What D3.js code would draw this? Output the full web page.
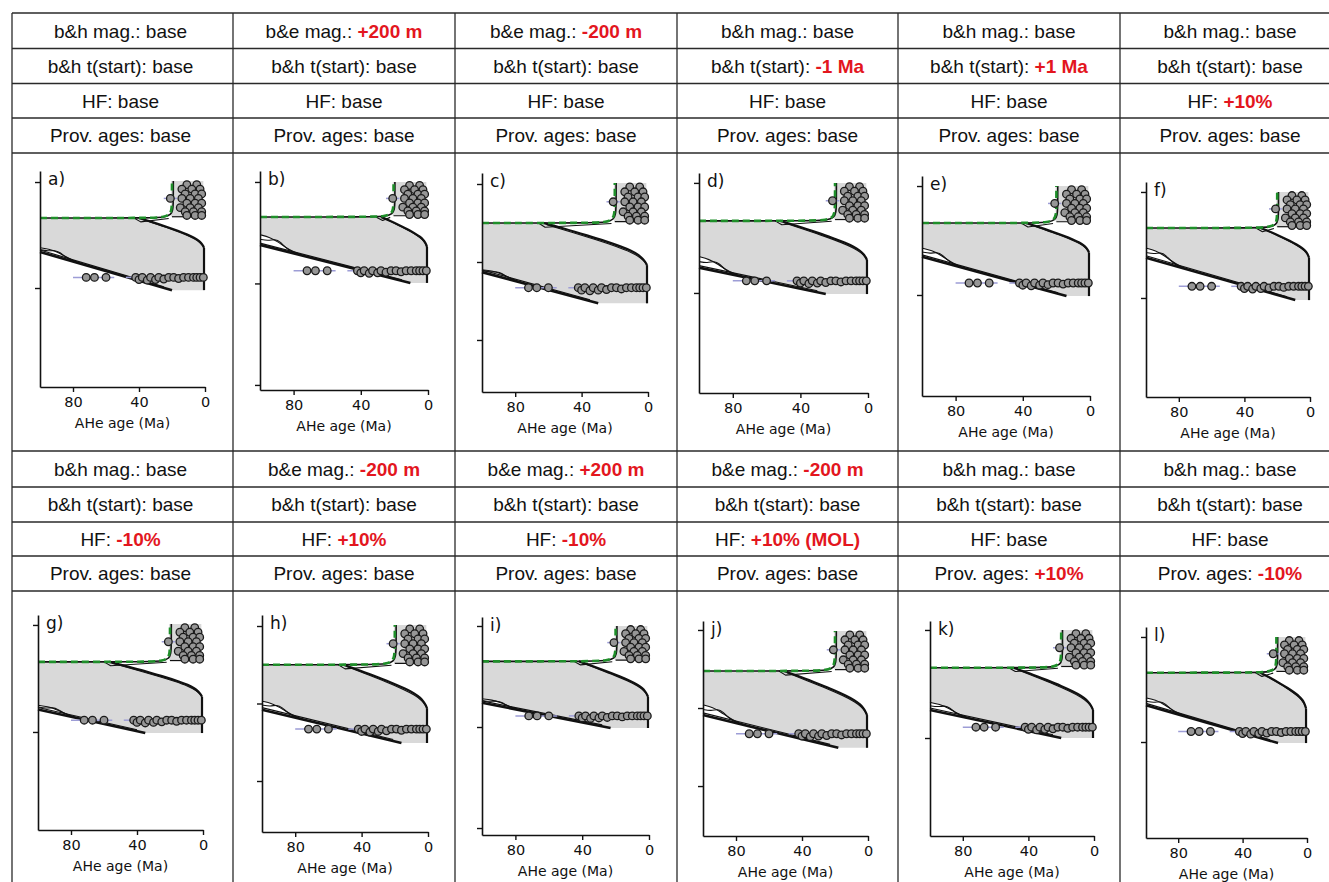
<!DOCTYPE html>
<html>
<head>
<meta charset="utf-8">
<script src="https://cdn.jsdelivr.net/npm/d3@7"></script>
<style>
  body { margin: 0; background: #fff; }
  svg { display: block; }
</style>
</head>
<body>
<svg id="fig" width="1329" height="882"></svg>
<script>
// ---------------- scenario table ----------------
const panelIds   = ["a","b","c","d","e","f","g","h","i","j","k","l"];
const magKey     = ["b&h","b&e","b&e","b&h","b&h","b&h","b&h","b&e","b&e","b&e","b&h","b&h"];
const magVal     = ["base","+200 m","-200 m","base","base","base","base","-200 m","+200 m","-200 m","base","base"];
const tStartVal  = ["base","base","base","-1 Ma","+1 Ma","base","base","base","base","base","base","base"];
const hfVal      = ["base","base","base","base","base","+10%","-10%","+10%","-10%","+10% (MOL)","base","base"];
const provVal    = ["base","base","base","base","base","base","base","base","base","base","+10%","-10%"];

// ---------------- axes (AHe age in Ma, depth in tick units) ----------------
const ageTicks   = [80, 40, 0];
const depthTicks = [0, 1, 2];
const yDomTop    = [-0.104,-0.108,-0.141,-0.090,-0.092,-0.094,-0.093,-0.142,-0.089,-0.115,-0.083,-0.095];
const yDomBot    = [ 1.934, 2.050, 2.667, 1.909, 1.927, 1.934, 1.916, 2.658, 2.069, 2.640, 1.907, 1.914];

// ---------------- modelled profile levels per scenario ----------------
const profileTop = [-0.01, 0.00,-0.013, 0.00, 0.00, 0.00,-0.01,-0.013, 0.00, 0.013, 0.00, 0.00];
const stepDepth  = [ 0.34, 0.345, 0.50, 0.345, 0.34, 0.34, 0.345, 0.50, 0.35, 0.526, 0.35, 0.34];
const kneeDepth  = [ 0.62, 0.64, 1.04, 0.70, 0.61, 0.62, 0.67, 1.06, 0.70, 1.09, 0.74, 0.68];
const loopDepth  = [ 0.62, 0.52, 1.10, 0.67, 0.57, 0.53, 0.75, 0.97, 0.72, 0.96, 0.67, 0.58];
const slopeDepth = [ 0.66, 0.62, 1.13, 0.77, 0.65, 0.62, 0.79, 1.08, 0.76, 1.09, 0.74, 0.65];
const rowDepth   = [ 0.90, 0.875, 1.33, 0.89, 0.89, 0.89, 0.89, 1.33, 0.89, 1.33, 0.90, 0.90];
const baseDepth  = [ 1.02, 0.995, 1.53, 1.01, 1.01, 1.02, 1.01, 1.51, 1.01, 1.51, 1.00, 1.01];
const notchAge   = [40, 28, 63, 52, 38, 30, 57, 51, 42, 51, 49, 29];
const slopeEndAge= [20, 10.5, 30, 25, 14, 9, 35, 16, 23, 18, 20, 18];
const greenAge   = [20, 20.5, 20, 19.5, 20, 20, 20, 20, 20, 20, 20, 19];

// shape of the envelope's right limb (fraction of notch age, fraction step -> knee)
const limbAgeFrac   = [1, 0.8, 0.57, 0.4, 0.25, 0.15, 0.08, 0.04, 0.015, 0];
const limbDepthFrac = [0, 0.13, 0.30, 0.43, 0.56, 0.66, 0.76, 0.85, 0.93, 1];
const limb2AgeFrac   = [1, 0.75, 0.5, 0.3, 0.15, 0.06, 0.02, 0];
const limb2DepthFrac = [0.04, 0.22, 0.40, 0.56, 0.70, 0.83, 0.93, 1];
// thin model curves near the left end of the lower limb
const loop1Age  = [100, 94, 89, 85, 80, 74];
const loop1Frac = [0, 0.2, 0.5, 0.75, 0.92, 1];
const loop2Age  = [100, 95, 91, 88, 84, 78];
const loop2Frac = [0.45, 0.5, 0.3, 0.45, 0.85, 1];
// bend of the best-fit curve from the surface unit into the step
const bendAgeOff   = [14, 5, 1.5, 0.3, 0];
const bendDepthOff = [0, -0.008, -0.03, -0.07, -0.14];

// ---------------- observed AHe ages ----------------
const clusterAge = [11, 5, 14, 8, 3, 12, 6, 2, 21, 14, 9, 4, 11, 6, 2, 15, 9, 4, 12, 7, 2, 11, 6, 2];
const clusterPos = [0.10,0.10, 0.22,0.22,0.22, 0.35,0.35,0.35, 0.47,0.47,0.47,0.47,
                    0.60,0.60,0.60, 0.72,0.72,0.72, 0.83,0.83,0.83, 0.93,0.93,0.93];
const rowAge    = [72, 67, 60, 42, 40, 38, 35, 33, 30, 28, 25, 22, 19, 16, 13, 10, 7, 5, 3, 1];
const rowOffset = [0, 0, 0, 0, 0.02, 0, 0.025, 0, 0.02, 0, 0.015, 0, 0, 0.01, 0, 0, 0, 0, 0, 0];
const rowErrFrom = [80, 48];
const rowErrTo   = [55, 36];

// ---------------- layout ----------------
const colEdges  = [12, 233, 455, 677, 898, 1120, 1340];
const blockRows = [[13, 48.5, 83.5, 118, 153], [451, 487, 522, 556, 591]];
const frames = [
  {x0: 40,  x1: 205,  y0: 171, y1: 387},
  {x0: 260, x1: 428,  y0: 171, y1: 390},
  {x0: 482, x1: 648,  y0: 173, y1: 392},
  {x0: 699, x1: 868,  y0: 173, y1: 393},
  {x0: 922, x1: 1090, y0: 176, y1: 396},
  {x0: 1146,x1: 1310, y0: 182, y1: 397},
  {x0: 38,  x1: 203,  y0: 615, y1: 830},
  {x0: 262, x1: 428,  y0: 615, y1: 832},
  {x0: 482, x1: 649,  y0: 617, y1: 835},
  {x0: 703, x1: 868,  y0: 621, y1: 836},
  {x0: 930, x1: 1094, y0: 621, y1: 836},
  {x0: 1146,x1: 1307, y0: 627, y1: 838}
];

const GRAY = "#d9d9d9", INK = "#111", GREEN = "#1f8f2a", RED = "#e3161e",
      ERR = "#9d9dd6", DOT = "#969696";
const TABLE_FONT = "'Liberation Sans', Arial, sans-serif";
const PLOT_FONT  = "'DejaVu Sans', sans-serif";

const svg = d3.select("#fig");

// ---------------- table grid ----------------
const grid = svg.append("g").attr("stroke", "#2a2a2a").attr("stroke-width", 1.3);
blockRows.flat().forEach(yv => {
  grid.append("line").attr("x1", 12).attr("x2", 1329).attr("y1", yv).attr("y2", yv);
});
colEdges.slice(0, 6).forEach(xv => {
  grid.append("line").attr("x1", xv).attr("x2", xv).attr("y1", 13).attr("y2", 882);
});

// ---------------- header cells ----------------
function headerRows(i) {
  return [
    [magKey[i] + " mag.: ", magVal[i]],
    ["b&h t(start): ", tStartVal[i]],
    ["HF: ", hfVal[i]],
    ["Prov. ages: ", provVal[i]]
  ];
}
panelIds.forEach((id, i) => {
  const col = i % 6, blk = Math.floor(i / 6);
  const cx = col === 5 ? 1230 : (colEdges[col] + colEdges[col + 1]) / 2 - (col === 0 ? 2 : 0);
  headerRows(i).forEach((row, r) => {
    const yc = (blockRows[blk][r] + blockRows[blk][r + 1]) / 2;
    const t = svg.append("text")
      .attr("x", cx).attr("y", yc + 6.8)
      .attr("text-anchor", "middle")
      .style("font-family", TABLE_FONT).style("font-size", "19px").attr("fill", "#111");
    t.append("tspan").text(row[0]);
    const changed = row[1] !== "base";
    t.append("tspan").text(row[1])
      .attr("fill", changed ? RED : "#111")
      .style("font-weight", changed ? "bold" : "normal");
  });
});

// ---------------- panels ----------------
panelIds.forEach((id, i) => {
  const f = frames[i];
  const x = d3.scaleLinear().domain([100, 0]).range([f.x0, f.x1]);
  const y = d3.scaleLinear().domain([yDomTop[i], yDomBot[i]]).range([f.y0, f.y1]);
  const g = svg.append("g");

  const top = profileTop[i], step = stepDepth[i], knee = kneeDepth[i], base = baseDepth[i];
  const s = base - top;
  const slope = slopeDepth[i], loop = loopDepth[i];
  const nA = notchAge[i], eA = slopeEndAge[i], gA = greenAge[i];
  const edgeAge = 0.6;
  const mainAt = a => slope + (100 - a) / (100 - eA) * (base - slope);

  const limb  = limbAgeFrac.map((af, k) => [edgeAge + af * (nA - edgeAge), step + limbDepthFrac[k] * (knee - step)]);
  const limb2 = limb2AgeFrac.map((af, k) => [edgeAge + af * (nA - 2 - edgeAge), step + limb2DepthFrac[k] * (knee - step)]);
  const loop1 = loop1Age.map((a, k) => [a, loop + loop1Frac[k] * (mainAt(a) - loop)]);
  const loop2 = loop2Age.map((a, k) => [a, loop + loop2Frac[k] * (mainAt(a) - loop)]);
  const bend  = [[100, step]].concat(bendAgeOff.map((ao, k) => [gA + ao, step + bendDepthOff[k] * s]), [[gA, top]]);

  const line = d3.line().x(d => x(d[0])).y(d => y(d[1]));
  const smooth = d3.line().x(d => x(d[0])).y(d => y(d[1])).curve(d3.curveBasis);

  // envelope of modelled ages
  g.append("path")
    .attr("d", line([[gA + 0.5, top], [1, top], [1, step - 0.012 * s], [gA + 0.5, step - 0.012 * s]]) + "Z")
    .attr("fill", GRAY);
  const envelope = [[100, step], [nA, step]].concat(limb, [[edgeAge, base], [eA, base]], loop1.slice().reverse());
  g.append("path").attr("d", line(envelope) + "Z").attr("fill", GRAY);

  // model curves
  const lines = g.append("g").attr("fill", "none").attr("stroke", INK).attr("stroke-linejoin", "round");
  lines.append("path").attr("d", smooth(limb)).attr("stroke-width", 2.2);
  lines.append("path").attr("d", smooth(limb2)).attr("stroke-width", 1.1);
  lines.append("path").attr("d", line([[edgeAge, knee], [edgeAge, base]])).attr("stroke-width", 2.2);
  lines.append("path").attr("d", line([[nA + 3, step], [nA - 1, step + 0.035 * s], [gA + 2, step + 0.004 * s]])).attr("stroke-width", 1.1);
  lines.append("path").attr("d", line([[100, slope], [eA, base]])).attr("stroke-width", 2.6);
  lines.append("path").attr("d", line([[100, slope - 0.018 * s], [eA + 5, base - 0.03 * s]])).attr("stroke-width", 1.2);
  lines.append("path").attr("d", smooth(loop1)).attr("stroke-width", 1.1);
  lines.append("path").attr("d", smooth(loop2)).attr("stroke-width", 1.1);
  lines.append("path").attr("d", line([[gA, step - 0.012 * s], [1, step - 0.012 * s]])).attr("stroke-width", 1.2);
  lines.append("path").attr("d", smooth(bend.map(d => [d[0] - 0.8, d[1]]))).attr("stroke-width", 1.6);

  // best-fit path
  g.append("path").attr("d", smooth(bend))
    .attr("fill", "none").attr("stroke", GREEN).attr("stroke-width", 2.6)
    .attr("stroke-dasharray", "7,4");

  // error bars
  const err = g.append("g").attr("stroke", ERR).attr("stroke-width", 1.5);
  rowErrFrom.forEach((a0, k) => {
    err.append("line").attr("x1", x(a0)).attr("x2", x(rowErrTo[k]))
      .attr("y1", y(rowDepth[i])).attr("y2", y(rowDepth[i]));
  });
  err.append("line").attr("x1", x(25)).attr("x2", x(17))
    .attr("y1", y(top + 0.47 * (step - top))).attr("y2", y(top + 0.47 * (step - top)));

  // samples
  const dots = g.append("g").attr("fill", DOT).attr("stroke", "#1a1a1a").attr("stroke-width", 1.3);
  clusterAge.forEach((a, k) => {
    dots.append("circle").attr("cx", x(a)).attr("cy", y(top + clusterPos[k] * (step - top))).attr("r", 3.8);
  });
  rowAge.forEach((a, k) => {
    dots.append("circle").attr("cx", x(a)).attr("cy", y(rowDepth[i] + rowOffset[k] * s)).attr("r", 3.8);
  });

  // axes
  const xAxis = g.append("g").attr("transform", `translate(0,${f.y1})`)
    .call(d3.axisBottom(x).tickValues(ageTicks).tickFormat(d3.format("d")).tickSize(5).tickSizeOuter(0).tickPadding(5));
  const yAxis = g.append("g").attr("transform", `translate(${f.x0},0)`)
    .call(d3.axisLeft(y).tickValues(depthTicks.filter(v => v >= yDomTop[i] && v <= yDomBot[i]))
      .tickFormat("").tickSize(5).tickSizeOuter(0));
  [xAxis, yAxis].forEach(ax => {
    ax.select(".domain").attr("stroke", INK).attr("stroke-width", 1.6);
    ax.selectAll(".tick line").attr("stroke", INK).attr("stroke-width", 1.4);
  });
  xAxis.selectAll(".tick text").style("font-family", PLOT_FONT).style("font-size", "14.5px").attr("fill", INK);

  g.append("text")
    .attr("x", (f.x0 + f.x1) / 2).attr("y", f.y1 + 41)
    .attr("text-anchor", "middle")
    .style("font-family", PLOT_FONT).style("font-size", "14px").attr("fill", INK)
    .text("AHe age (Ma)");

  g.append("text")
    .attr("x", f.x0 + 8).attr("y", f.y0 + 14)
    .style("font-family", PLOT_FONT).style("font-size", "17px").attr("fill", INK)
    .text(id + ")");
});
</script>
</body>
</html>
